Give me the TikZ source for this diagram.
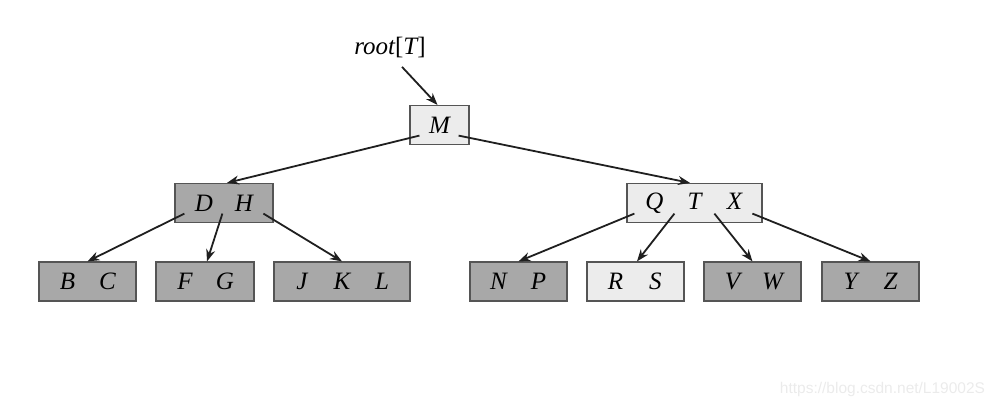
\documentclass[tikz,border=0pt]{standalone}
\usepackage{fontspec}
\setmainfont{Liberation Serif}
\newfontfamily\wmfont{Liberation Sans}
\usetikzlibrary{arrows.meta}
\definecolor{dk}{RGB}{168,168,168}
\definecolor{lt}{RGB}{236,236,236}
\definecolor{bd}{RGB}{85,85,85}
\newcommand\kk[1]{\makebox[40pt]{#1}}
\begin{document}
\begin{tikzpicture}[x=1pt,y=-1pt,
  box/.style={draw=bd, line width=1.2pt, minimum height=39pt, inner sep=0pt, font=\fontsize{25}{30}\selectfont\itshape},
  dkbox/.style={box, fill=dk},
  ltbox/.style={box, fill=lt},
  ptr/.style={line width=1.8pt, draw=black!88, -{Stealth[length=12pt,width=9pt]}}]
\useasboundingbox (0,0) rectangle (997,409);
% nodes
\node[font=\fontsize{25}{30}\selectfont\itshape] (root) at (390,48) {root{\upshape[}T{\upshape]}};
\node[ltbox, minimum width=59pt] (M) at (439.5,125) {M};
\node[dkbox, minimum width=98pt] (DH) at (224,203) {\kk{D}\kk{H}};
\node[ltbox, minimum width=135pt] (QTX) at (694.5,203) {\kk{Q}\kk{T}\kk{X}};
\node[dkbox, minimum width=97pt] (BC) at (87.5,281.5) {\kk{B}\kk{C}};
\node[dkbox, minimum width=98pt] (FG) at (205,281.5) {\kk{F}\kk{G}};
\node[dkbox, minimum width=136pt] (JKL) at (342,281.5) {\kk{J}\kk{K}\kk{L}};
\node[dkbox, minimum width=97pt] (NP) at (518.5,281.5) {\kk{N}\kk{P}};
\node[ltbox, minimum width=97pt] (RS) at (635.5,281.5) {\kk{R}\kk{S}};
\node[dkbox, minimum width=97pt] (VW) at (752.5,281.5) {\kk{V}\kk{W}};
\node[dkbox, minimum width=97pt] (YZ) at (870.5,281.5) {\kk{Y}\kk{Z}};
\node[font=\wmfont\fontsize{15.5}{18}\selectfont, text=black!8] (wm) at (882.5,389) {https://blog.csdn.net/L19002S};
% connectors
\draw[ptr] ([xshift=12pt,yshift=-5pt]root.south) -- ([xshift=-2pt]M.north);
\draw[ptr] ([xshift=10pt,yshift=9.5pt]M.south west) -- ([xshift=3pt]DH.north);
\draw[ptr] ([xshift=-11pt,yshift=9.5pt]M.south east) -- ([xshift=-4.5pt]QTX.north);
\draw[ptr] ([xshift=10pt,yshift=9.5pt]DH.south west) -- (BC.north);
\draw[ptr] ([xshift=48pt,yshift=9.5pt]DH.south west) -- ([xshift=2pt]FG.north);
\draw[ptr] ([xshift=89pt,yshift=9.5pt]DH.south west) -- (JKL.north);
\draw[ptr] ([xshift=8pt,yshift=9.5pt]QTX.south west) -- (NP.north);
\draw[ptr] ([xshift=48pt,yshift=9.5pt]QTX.south west) -- ([xshift=1.5pt]RS.north);
\draw[ptr] ([xshift=88pt,yshift=9.5pt]QTX.south west) -- (VW.north);
\draw[ptr] ([xshift=126pt,yshift=9.5pt]QTX.south west) -- (YZ.north);
\end{tikzpicture}
\end{document}
